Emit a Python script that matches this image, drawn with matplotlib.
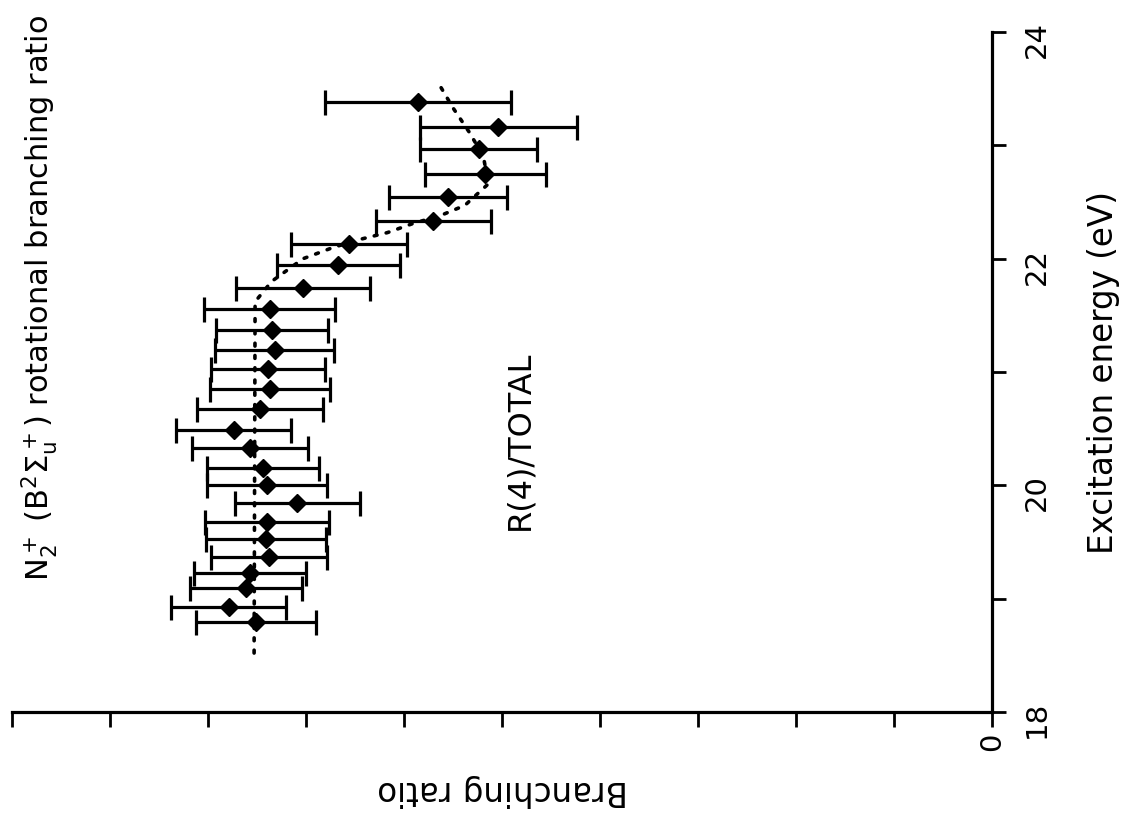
import matplotlib
matplotlib.use("Agg")
import matplotlib.pyplot as plt
import numpy as np

plt.rcParams["font.family"] = "DejaVu Sans"
plt.rcParams["mathtext.default"] = "regular"

# R(4)/TOTAL branching ratio vs excitation energy
energy = [23.38, 23.16, 22.97, 22.75, 22.54, 22.33, 22.13, 21.94, 21.74,
          21.56, 21.37, 21.19, 21.03, 20.85, 20.67, 20.49, 20.33, 20.15,
          20.00, 19.84, 19.68, 19.53, 19.37, 19.23, 19.09, 18.93, 18.79]
ratio = [0.586, 0.504, 0.524, 0.517, 0.555, 0.570, 0.656, 0.667, 0.703,
         0.737, 0.735, 0.732, 0.739, 0.737, 0.747, 0.774, 0.757, 0.744,
         0.740, 0.709, 0.740, 0.741, 0.738, 0.757, 0.761, 0.779, 0.751]
ratio_err = [0.095, 0.080, 0.060, 0.062, 0.060, 0.059, 0.059, 0.063, 0.068,
             0.067, 0.057, 0.061, 0.058, 0.061, 0.064, 0.059, 0.059, 0.057,
             0.061, 0.064, 0.063, 0.061, 0.059, 0.057, 0.057, 0.059, 0.061]

# theory curve (dotted)
curve_energy = [18.52, 21.62, 21.80, 22.00, 22.10, 22.17, 22.23, 22.31,
                22.38, 22.47, 22.66, 22.90, 23.11, 23.33, 23.55]
curve_ratio = [0.753, 0.752, 0.735, 0.703, 0.672, 0.645, 0.617, 0.591,
               0.563, 0.538, 0.514, 0.519, 0.533, 0.550, 0.565]

fig = plt.figure(figsize=(11.36, 8.23), dpi=100, facecolor="white")
ax = fig.add_axes([0.0106, 0.1349, 0.8627, 0.8262])

ax.plot(curve_ratio, curve_energy, color="black", lw=2.6,
        ls=(0, (0.8, 2.6)), dash_capstyle="round", zorder=1)
ax.errorbar(ratio, energy, xerr=ratio_err, fmt="D", color="black", ms=9,
            elinewidth=2.3, capsize=9, capthick=2.3, zorder=2)

ax.set_xlim(1.0, 0.0)
ax.set_ylim(18, 24)

for side in ["top", "left"]:
    ax.spines[side].set_visible(False)
for side in ["right", "bottom"]:
    ax.spines[side].set_linewidth(2.3)

ax.yaxis.tick_right()
ax.set_yticks([18, 20, 22, 24])
ax.set_yticks([19, 21, 23], minor=True)
ax.tick_params(axis="y", which="both", direction="out", length=10, width=2,
               labelsize=21, labelrotation=90, pad=12)

ax.set_xticks(np.arange(0, 1.01, 0.1))
ax.set_xticklabels(["0"] + [""] * 10)
ax.tick_params(axis="x", direction="out", length=11, width=2,
               labelsize=21, labelrotation=90, pad=4)

ax.text(0.482, 20.40, "R(4)/TOTAL", rotation=90, ha="center", va="center",
        fontsize=23)

fig.text(40 / 1136, 1 - 15 / 823,
         r"N$_2^+$ (B$^2\Sigma_u^+$) rotational branching ratio",
         rotation=90, ha="center", va="top", fontsize=22)
fig.text(503 / 1136, 1 - 790 / 823, "Branching ratio", rotation=180,
         ha="center", va="center", fontsize=23.5)
fig.text(1103 / 1136, 1 - 372 / 823, "Excitation energy (eV)", rotation=90,
         ha="center", va="center", fontsize=23.5)

fig.savefig("out.png", dpi=100, facecolor="white")
